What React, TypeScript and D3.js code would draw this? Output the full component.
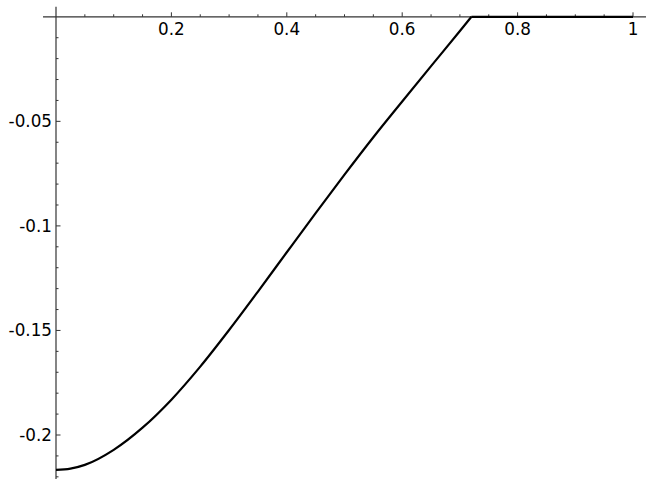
import React from "react";
import * as d3 from "d3";

const xs = [0, 0.025, 0.05, 0.1, 0.15, 0.2, 0.25, 0.3, 0.35, 0.4, 0.45, 0.5, 0.55, 0.6, 0.65, 0.7, 0.72];
const ys = [-0.2167, -0.2161, -0.2143, -0.2071, -0.1965, -0.1831, -0.1673, -0.1498, -0.1314, -0.1126, -0.0939, -0.0755, -0.0576, -0.0405, -0.0236, -0.0068, 0];
const flatXs = [0.72, 1];
const flatYs = [0, 0];
const xTickLabels = ["0.2", "0.4", "0.6", "0.8", "1"];
const xTicks = [0.2, 0.4, 0.6, 0.8, 1];
const yTickLabels = ["-0.05", "-0.1", "-0.15", "-0.2"];
const yTicks = [-0.05, -0.1, -0.15, -0.2];

const W = 654;
const H = 488;

export default function App() {
  const x = d3.scaleLinear().domain([0, 1]).range([56, 633]);
  const y = d3.scaleLinear().domain([0, -0.2]).range([16.8, 435]);

  const curvePts: [number, number][] = xs.map((v, i) => [v, ys[i]]);
  const flatPts: [number, number][] = flatXs.map((v, i) => [v, flatYs[i]]);
  const line = d3
    .line<[number, number]>()
    .x((d) => x(d[0]))
    .y((d) => y(d[1]))
    .curve(d3.curveMonotoneX);
  const lineStraight = d3
    .line<[number, number]>()
    .x((d) => x(d[0]))
    .y((d) => y(d[1]));

  const xMinor = d3.range(1, 21).map((i) => i * 0.05).filter((v) => Math.abs(v * 5 - Math.round(v * 5)) > 1e-6);
  const yMinor = d3.range(1, 23).map((i) => -i * 0.01).filter((v) => Math.abs(v * 20 - Math.round(v * 20)) > 1e-6);

  const axisColor = "#333";
  const font = "DejaVu Sans, sans-serif";
  const x0 = x(0);
  const y0 = y(0);

  return (
    <svg
      width={W}
      height={H}
      style={{ position: "fixed", left: 0, top: 0, background: "#fff" }}
    >
      <rect x={0} y={0} width={W} height={H} fill="#fff" />
      <line x1={x(-0.0225)} x2={x(1.0225)} y1={y0} y2={y0} stroke={axisColor} strokeWidth={1.2} />
      <line x1={x0} x2={x0} y1={y(0.0048)} y2={y(-0.221)} stroke={axisColor} strokeWidth={1.2} />
      {xTicks.map((t, i) => (
        <g key={"xt" + i}>
          <line x1={x(t)} x2={x(t)} y1={y0} y2={y0 - 4.5} stroke={axisColor} strokeWidth={1} />
          <text
            x={x(t)}
            y={y0 + 18.5}
            textAnchor="middle"
            fontFamily={font}
            fontSize={16.8}
            fill="#000"
          >
            {xTickLabels[i]}
          </text>
        </g>
      ))}
      {xMinor.map((t, i) => (
        <line key={"xm" + i} x1={x(t)} x2={x(t)} y1={y0} y2={y0 - 2.5} stroke={axisColor} strokeWidth={1} />
      ))}
      {yTicks.map((t, i) => (
        <g key={"yt" + i}>
          <line x1={x0} x2={x0 + 4.5} y1={y(t)} y2={y(t)} stroke={axisColor} strokeWidth={1} />
          <text
            x={x0 - 4}
            y={y(t)}
            dy="0.36em"
            textAnchor="end"
            fontFamily={font}
            fontSize={16.8}
            fill="#000"
          >
            {yTickLabels[i]}
          </text>
        </g>
      ))}
      {yMinor.map((t, i) => (
        <line key={"ym" + i} x1={x0} x2={x0 + 2.5} y1={y(t)} y2={y(t)} stroke={axisColor} strokeWidth={1} />
      ))}
      <path d={line(curvePts) || ""} fill="none" stroke="#000" strokeWidth={2.2} />
      <path d={lineStraight(flatPts) || ""} fill="none" stroke="#000" strokeWidth={2.2} />
    </svg>
  );
}
